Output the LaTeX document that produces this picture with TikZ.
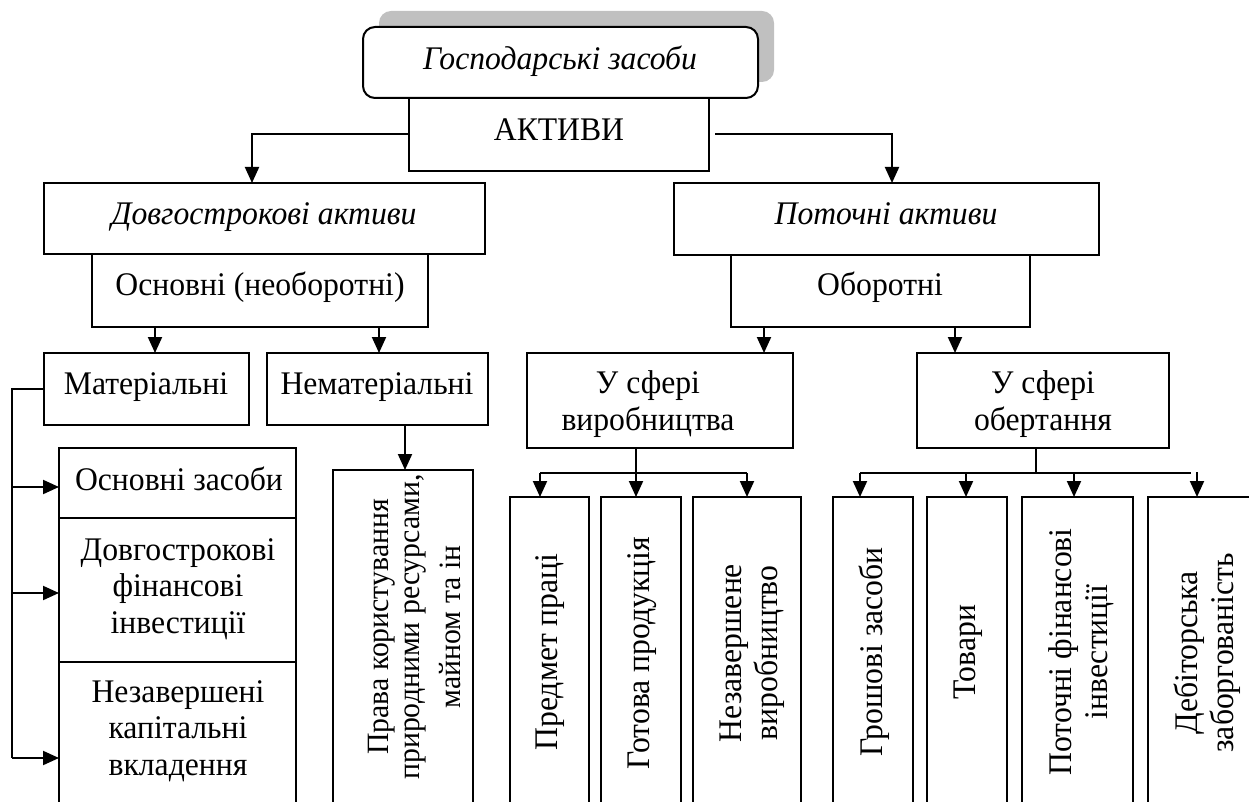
\documentclass[tikz,border=0pt]{standalone}
\usepackage{fontspec}
\setmainfont{Liberation Serif}[FakeStretch=0.96]
\usetikzlibrary{arrows.meta,shadows}
\definecolor{shadegray}{HTML}{C0C0C0}

% rectangle node given by its left, right, top and bottom edges
\newcommand{\blockat}[6][]{%
  \node[frame,#1,minimum width={(#4-#3)*1pt},minimum height={(#6-#5)*1pt}]
    (#2) at ({(#3+#4)/2},{(#5+#6)/2}) {};}

\begin{document}
\begin{tikzpicture}[x=1pt,y=-1pt,
  frame/.style={draw,line width=2pt,fill=white,inner sep=0pt,outer sep=0pt},
  conn/.style={line width=2pt},
  arr/.style={conn,-{Triangle[length=16pt,width=14pt]}},
  txt/.style={inner sep=0pt,font=\fontsize{33}{36.5}\selectfont,align=center},
  itxt/.style={txt,font=\fontsize{33}{36.5}\selectfont\itshape},
  vtxt/.style={txt,rotate=90},
]
\useasboundingbox (0,0) rectangle (1249,802);
\clip (0,0) rectangle (1249,802);

% ---- top of the tree
\node[frame,rounded corners=12pt,minimum width=395pt,minimum height=71pt,
  drop shadow={shadow xshift=16pt,shadow yshift=16pt,fill=shadegray,opacity=1}]
  (gosp) at (560.5,62.5) {};
\blockat{aktyvy}{409}{709}{98}{171}

% ---- second level
\blockat{dovh}{44}{485}{183}{254}
\blockat{osnovni}{92}{428}{254}{327}
\blockat{potoch}{674}{1099}{183}{255}
\blockat{oborot}{731}{1030}{255}{327}

% ---- third level
\blockat{mater}{44}{249}{353}{425}
\blockat{nemat}{267}{488}{353}{425}
\blockat{vyrob}{527}{793}{353}{448}
\blockat{obert}{917}{1169}{353}{448}

% ---- leaves
\blockat{st1}{59}{296}{448}{518}
\blockat{st2}{59}{296}{518}{662}
\blockat{st3}{59}{296}{662}{830}
\blockat{prava}{333}{473}{470}{830}
\blockat{p1}{510}{589}{497}{830}
\blockat{p2}{601}{681}{497}{830}
\blockat{p3}{693}{801}{497}{830}
\blockat{c1}{833}{913}{497}{830}
\blockat{c2}{927}{1007}{497}{830}
\blockat{c3}{1022}{1133}{497}{830}
\blockat{c4}{1148}{1290}{497}{830}

% ---- texts
\node[itxt,anchor=base] (tgosp) at (560,70) {Господарські засоби};
\node[txt,anchor=base] (taktyvy) at (559,141) {АКТИВИ};
\node[itxt,anchor=base] (tdovh) at (264,225) {Довгострокові активи};
\node[txt,anchor=base] (tosnovni) at (260,295) {Основні (необоротні)};
\node[itxt,anchor=base] (tpotoch) at (886,225) {Поточні активи};
\node[txt,anchor=base] (toborot) at (880,295) {Оборотні};
\node[txt,anchor=base] (tmater) at (146,394) {Матеріальні};
\node[txt,anchor=base] (tnemat) at (377,394) {Нематеріальні};
\node[txt] (tvyrob) at (648,404) {У сфері\\виробництва};
\node[txt] (tobert) at (1043,404) {У сфері\\обертання};
\node[txt,anchor=base] (tst1) at (179,490) {Основні засоби};
\node[txt] (tst2) at (178,589) {Довгострокові\\фінансові\\інвестиції};
\node[txt] (tst3) at (178,731) {Незавершені\\капітальні\\вкладення};
\node[vtxt,font=\fontsize{31}{31}\selectfont] (tprava) at (414,627)
  {Права користування\\природними ресурсами,\\[10pt]майном та ін};
\node[vtxt] (tp1) at (550,652) {Предмет праці};
\node[vtxt] (tp2) at (642,653) {Готова продукція};
\node[vtxt] (tp3) at (752,653) {Незавершене\\виробництво};
\node[vtxt] (tc1) at (874,652) {Грошові засоби};
\node[vtxt] (tc2) at (968,652) {Товари};
\node[vtxt] (tc3) at (1081,652) {Поточні фінансові\\інвестиції};
\node[vtxt] (tc4) at (1207,653) {Дебіторська\\заборгованість};

% ---- connectors
\coordinate (dovhIn) at (252,183);
\coordinate (potIn) at (892,183);
\draw[arr] (aktyvy.west) -| (dovhIn);
\draw[arr] ([xshift=6pt]aktyvy.east) -| (potIn);

\coordinate (materIn) at (155,353);
\coordinate (nematIn) at (379,353);
\draw[arr] (osnovni.south -| materIn) -- (materIn);
\draw[arr] (osnovni.south -| nematIn) -- (nematIn);

\coordinate (vyrobIn) at (764,353);
\coordinate (obertIn) at (955,353);
\draw[arr] (oborot.south -| vyrobIn) -- (vyrobIn);
\draw[arr] (oborot.south -| obertIn) -- (obertIn);

% material assets: bus on the left
\coordinate (t1) at (12,487);
\coordinate (t2) at (12,593);
\coordinate (t3) at (12,758);
\draw[conn] (mater.west) -| (t3);
\draw[arr] (t1) -- (t1 -| st1.west);
\draw[arr] (t2) -- (t2 -| st2.west);
\draw[arr] (t3) -- (t3 -| st3.west);

% intangible assets
\coordinate (pravaIn) at (405,470);
\draw[arr] (nemat.south -| pravaIn) -- (pravaIn);

% production sphere
\coordinate (pj) at (636,473);
\coordinate (pl) at (540,473);
\coordinate (pr) at (747,473);
\draw[conn] (vyrob.south -| pj) -- (pj);
\draw[conn] (pl) -- (pr);
\draw[arr] (pl) -- (pl |- p1.north);
\draw[arr] (pj) -- (pj |- p2.north);
\draw[arr] (pr) -- (pr |- p3.north);

% circulation sphere
\coordinate (cj) at (1036,473);
\coordinate (cl) at (860,473);
\coordinate (cr) at (1191,473);
\coordinate (cm1) at (966,473);
\coordinate (cm2) at (1074,473);
\coordinate (cx) at (1197,472);
\draw[conn] (obert.south -| cj) -- (cj);
\draw[conn] (cl) -- (cr);
\draw[arr] (cl) -- (cl |- c1.north);
\draw[arr] (cm1) -- (cm1 |- c2.north);
\draw[arr] (cm2) -- (cm2 |- c3.north);
\draw[arr] (cx) -- (cx |- c4.north);
\end{tikzpicture}
\end{document}
